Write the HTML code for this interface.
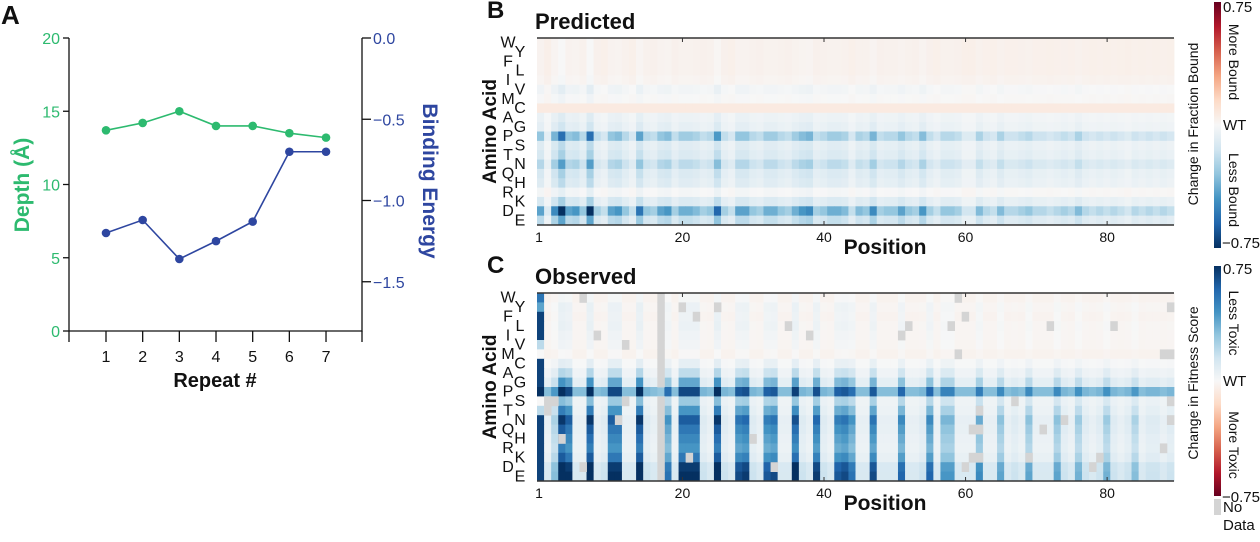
<!DOCTYPE html>
<html><head><meta charset="utf-8">
<style>
html,body{margin:0;padding:0;background:#fff;}
svg{display:block;font-family:"Liberation Sans",Arial,sans-serif;}
</style></head>
<body>
<svg id="fig" width="1260" height="542" viewBox="0 0 1260 542">
<defs>
<linearGradient id="gradB" x1="0" y1="0" x2="0" y2="1">
<stop offset="0" stop-color="#67001f"/><stop offset="0.1" stop-color="#b2182b"/><stop offset="0.2" stop-color="#d6604d"/><stop offset="0.3" stop-color="#f4a582"/><stop offset="0.4" stop-color="#fddbc7"/><stop offset="0.5" stop-color="#f7f7f7"/><stop offset="0.6" stop-color="#d1e5f0"/><stop offset="0.7" stop-color="#92c5de"/><stop offset="0.8" stop-color="#4393c3"/><stop offset="0.9" stop-color="#2166ac"/><stop offset="1" stop-color="#053061"/>
</linearGradient>
<linearGradient id="gradC" x1="0" y1="1" x2="0" y2="0">
<stop offset="0" stop-color="#67001f"/><stop offset="0.1" stop-color="#b2182b"/><stop offset="0.2" stop-color="#d6604d"/><stop offset="0.3" stop-color="#f4a582"/><stop offset="0.4" stop-color="#fddbc7"/><stop offset="0.5" stop-color="#f7f7f7"/><stop offset="0.6" stop-color="#d1e5f0"/><stop offset="0.7" stop-color="#92c5de"/><stop offset="0.8" stop-color="#4393c3"/><stop offset="0.9" stop-color="#2166ac"/><stop offset="1" stop-color="#053061"/>
</linearGradient>
</defs>
<g id="panelA"></g>
<g id="panelB"></g>
<g id="panelC"></g>
<g id="cbars"></g>
</svg>
<script>
// ---- Panel A data ----
const repeats = [1,2,3,4,5,6,7];
const depthValues = [13.7,14.2,15.0,14.0,14.0,13.5,13.2];
const energyValues = [-1.2,-1.12,-1.36,-1.25,-1.13,-0.7,-0.7];
const depthTicks = [0,5,10,15,20];
const energyTicks = [0.0,-0.5,-1.0,-1.5];
const energyTickLabels = ["0.0","\u22120.5","\u22121.0","\u22121.5"];

// ---- Heatmap data ----
const aminoAcids = ["W","Y","F","L","I","V","M","C","A","G","P","S","T","N","Q","H","R","K","D","E"];
const positionTicks = [1,20,40,60,80];
const predColStrength = [0.5,0.1,0.6,1.0,0.5,0.55,0.35,1.0,0.3,0.2,
0.5,0.55,0.35,0.2,0.7,0.35,0.3,0.5,0.55,0.3,
0.45,0.45,0.4,0.3,0.35,0.75,0.3,0.2,0.5,0.5,
0.35,0.3,0.45,0.45,0.35,0.3,0.45,0.55,0.6,0.3,
0.35,0.45,0.45,0.4,0.2,0.4,0.35,0.6,0.3,0.35,
0.35,0.5,0.35,0.3,0.55,0.3,0.2,0.35,0.35,0.3,
0.15,0.15,0.4,0.25,0.2,0.4,0.25,0.25,0.3,0.35,
0.25,0.25,0.2,0.25,0.3,0.25,0.4,0.25,0.2,0.25,
0.2,0.25,0.2,0.15,0.25,0.2,0.25,0.2,0.25,0.2];
const predRowBase = [0.05,0.05,0.05,0.05,0.04,0.02,0.02,0.07,0,0,-0.02,0,0,-0.02,0,0,0.03,0,-0.03,0];
const predRowScale = [-0.05,-0.05,-0.05,-0.05,-0.05,-0.1,-0.05,0,-0.1,-0.15,-0.55,-0.2,-0.25,-0.4,-0.25,-0.2,-0.1,-0.25,-0.75,-0.4];
const obsColStrength = [1,0.05,0.3,1,0.85,0.05,0.05,1,0.05,0.1,
0.85,0.85,0.05,0.05,1,0.1,0.05,0.0,0.6,0.05,
0.85,0.85,0.85,0.1,0.05,1,0.1,0.05,0.75,0.8,
0.1,0.05,0.7,0.75,0.05,0.05,0.9,0.1,0.05,0.8,
0.1,0.05,0.7,0.75,0.6,0.05,0.05,0.75,0.05,0.05,
0.05,0.65,0.05,0.05,0.1,0.65,0.05,0.45,0.45,0.05,
0.05,0.05,0.5,0.05,0.05,0.4,0.05,0.1,0.05,0.4,
0.05,0.05,0.05,0.4,0.1,0.05,0.35,0.1,0.05,0.1,
0.35,0.1,0.05,0.1,0.3,0.05,0.1,0.1,0.05,0.1];
const obsRowBase = [-0.03,-0.02,-0.03,-0.02,-0.02,-0.02,-0.03,0.0,0.02,0.05,0.3,0.02,0.02,0.03,0.03,0.02,0.02,0.03,0.08,0.08];
const obsRowScale = [0.05,0.08,0.08,0.08,0.06,0.05,0.03,0.08,0.2,0.4,0.45,0.3,0.5,0.7,0.6,0.55,0.5,0.6,0.75,0.8];
const obsFirstCol = [0.55,0.4,0.7,0.7,0.7,0.2,0.0,0.7,0.7,0.7,0.75,0.0,0.2,0.7,0.7,0.7,0.7,0.7,0.7,0.7];
const noDataCells = [[17,0],[17,1],[17,2],[17,3],[17,4],[17,5],[17,6],[17,7],[17,8],[17,9],[17,11],[17,12],[17,13],[17,14],[17,15],[17,16],[17,17],[17,18],[17,19],
[6,0],[20,1],[25,1],[22,2],[35,3],[8,4],[12,5],[1,11],[2,11],[1,12],[12,11],[11,13],[3,15],[6,18],[21,17],[33,18],[30,15],[38,4],
[59,0],[60,2],[58,3],[52,3],[51,4],[72,3],[81,3],[89,1],[89,6],[59,6],[88,6],[67,11],[89,11],[62,12],[74,13],[89,13],[71,14],[61,14],[62,14],[88,16],[79,17],[69,17],[61,17],[62,17],[60,18],[78,18]];

const NS="http://www.w3.org/2000/svg";
function mk(tag,attrs,parent){const e=document.createElementNS(NS,tag);for(const k in attrs)e.setAttribute(k,attrs[k]);parent.appendChild(e);return e;}
function txt(s,attrs,parent){const e=mk('text',attrs,parent);e.textContent=s;return e;}

// ---- Panel A ----
const A=document.getElementById('panelA');
const green="#2dba6f", blue="#2e46a0";
const axL=69, axR=362, axT=38, axB=331;
const xA=r=>106+(r-1)*36.67;
const yD=d=>axB-(d/20)*(axB-axT);
const yE=e=>axT-e*162.5;
let t=txt('A',{x:1,y:24,'font-size':26,'font-weight':'bold',fill:'#111'},A);

let ax=mk('path',{d:`M${axL},${axT}V${axB}H${axR}V${axT}`,fill:'none',stroke:'#111','stroke-width':1.3},A);

depthTicks.forEach(d=>{const y=yD(d);mk('line',{x1:axL-6,x2:axL,y1:y,y2:y,stroke:'#111','stroke-width':1.3},A);
 const l=txt(String(d),{x:axL-9,y:y+6,'font-size':16,fill:green,'text-anchor':'end'},A);
 });
energyTicks.forEach((e,i)=>{const y=yE(e);mk('line',{x1:axR,x2:axR+9,y1:y,y2:y,stroke:'#111','stroke-width':1.3},A);
 const l=txt(energyTickLabels[i],{x:axR+11,y:y+6,'font-size':16,fill:blue},A);
 });
[axL,...repeats.map(xA),axR].forEach(x=>mk('line',{x1:x,x2:x,y1:axB,y2:axB+11,stroke:'#111','stroke-width':1.3},A));
repeats.forEach(r=>{const l=txt(String(r),{x:xA(r),y:362,'font-size':16,fill:'#111','text-anchor':'middle'},A);
 });
t=txt('Repeat #',{x:215,y:387,'font-size':20,'font-weight':'bold',fill:'#111','text-anchor':'middle'},A);

t=txt('Depth (Å)',{x:0,y:0,'font-size':21,'font-weight':'bold',fill:green,'text-anchor':'middle',transform:'translate(29,185) rotate(-90)'},A);

t=txt('Binding Energy',{x:0,y:0,'font-size':21,'font-weight':'bold',fill:blue,'text-anchor':'middle',transform:'translate(423,181) rotate(90)'},A);

let ln=mk('polyline',{points:repeats.map((r,i)=>xA(r)+','+yD(depthValues[i])).join(' '),fill:'none',stroke:green,'stroke-width':1.6},A);

repeats.forEach((r,i)=>{const c=mk('circle',{cx:xA(r),cy:yD(depthValues[i]),r:4.3,fill:green},A);
 });
ln=mk('polyline',{points:repeats.map((r,i)=>xA(r)+','+yE(energyValues[i])).join(' '),fill:'none',stroke:blue,'stroke-width':1.6},A);

repeats.forEach((r,i)=>{const c=mk('circle',{cx:xA(r),cy:yE(energyValues[i]),r:4.3,fill:blue},A);
 });

// ---- color map ----
const stops=[[103,0,31],[178,24,43],[214,96,77],[244,165,130],[253,219,199],[247,247,247],[209,229,240],[146,197,222],[67,147,195],[33,102,172],[5,48,97]];
function rdbu(u){
 u=Math.max(-1,Math.min(1,u));const p=(u+1)/2*10;const i=Math.min(9,Math.floor(p));const f=p-i;
 const a=stops[i],b=stops[i+1];return `rgb(${a.map((v,k)=>Math.round(v+(b[k]-v)*f)).join(',')})`;}

const hmL=537, hmR=1174, nCols=90, cw=(hmR-hmL)/nCols;
const xPos=p=>hmL+(p+0.55)*cw;
function heatmap(G,top,bot,title,letter,valueFn,gray){
 const rh=(bot-top)/20;
 let l=txt(letter,{x:487,y:top-20,'font-size':24,'font-weight':'bold',fill:'#111'},G);
 
 l=txt(title,{x:535,y:top-9,'font-size':22,'font-weight':'bold',fill:'#111'},G);
 
 for(let r=0;r<20;r++)for(let c=0;c<nCols;c++){
  const rc=mk('rect',{x:(hmL+c*cw).toFixed(2),y:(top+r*rh).toFixed(2),width:(cw+0.4).toFixed(2),height:(rh+0.4).toFixed(2),fill:valueFn(r,c)},G);
  
  
 }
 if(gray)gray.forEach(([c,r])=>{const g=mk('rect',{x:hmL+c*cw,y:top+r*rh,width:cw+0.4,height:rh+0.4,fill:'#d4d4d4'},G);
  });
 mk('line',{x1:hmL,x2:hmR,y1:top,y2:top,stroke:'#333','stroke-width':1.5},G);
 mk('line',{x1:hmL,x2:hmR,y1:bot,y2:bot,stroke:'#333','stroke-width':1.5},G);
 positionTicks.forEach(p=>{const x=p===1?hmL+2:xPos(p);
  if(p!==1){mk('line',{x1:x,x2:x,y1:top,y2:top+4,stroke:'#333'},G);mk('line',{x1:x,x2:x,y1:bot-4,y2:bot,stroke:'#333'},G);}
  const tl=txt(String(p),{x:x,y:bot+17,'font-size':14,fill:'#111','text-anchor':'middle'},G);
  });
 aminoAcids.forEach((a,r)=>{const tl=txt(a,{x:r%2===0?508:520,y:top+r*rh+rh/2+5,'font-size':16,fill:'#111','text-anchor':'middle'},G);
  });
 l=txt('Amino Acid',{x:0,y:0,'font-size':19,'font-weight':'bold',fill:'#111','text-anchor':'middle',transform:`translate(496,${(top+bot)/2}) rotate(-90)`},G);
 
 l=txt('Position',{x:885,y:bot+29,'font-size':21,'font-weight':'bold',fill:'#111','text-anchor':'middle'},G);
 
}
heatmap(document.getElementById('panelB'),38,225,'Predicted','B',
 (r,c)=>rdbu(-(predRowBase[r]+predRowScale[r]*predColStrength[c])/0.75),null);
heatmap(document.getElementById('panelC'),293,481,'Observed','C',
 (r,c)=>{const v=c===0?obsFirstCol[r]:obsRowBase[r]+obsRowScale[r]*obsColStrength[c];return rdbu(v/0.75);},noDataCells);

// ---- colorbars ----
const CB=document.getElementById('cbars');
let cb=mk('rect',{x:1214,y:2,width:7,height:246,fill:'url(#gradB)'},CB);

cb=mk('rect',{x:1214,y:266,width:7,height:230,fill:'url(#gradC)'},CB);

cb=mk('rect',{x:1214,y:499,width:7,height:16,fill:'#d4d4d4'},CB);

const cbl=[['0.75',1223,12],['WT',1223,130],['\u22120.75',1222,248],['0.75',1223,274],['WT',1223,386],['\u22120.75',1222,502],['No',1223,512],['Data',1223,530]];
cbl.forEach(([s,x,y])=>{const l=txt(s,{x:x,y:y,'font-size':15,fill:'#111'},CB);});
const cbr=[['More Bound',1229,62],['Less Bound',1229,190],['Less Toxic',1229,323],['More Toxic',1229,445]];
cbr.forEach(([s,x,y])=>{const l=txt(s,{x:0,y:0,'font-size':14,fill:'#111','text-anchor':'middle',transform:`translate(${x},${y}) rotate(90)`},CB);});
let lt=txt('Change in Fraction Bound',{x:0,y:0,'font-size':14,fill:'#111','text-anchor':'middle',transform:'translate(1198,124) rotate(-90)'},CB);

lt=txt('Change in Fitness Score',{x:0,y:0,'font-size':14,fill:'#111','text-anchor':'middle',transform:'translate(1198,383) rotate(-90)'},CB);

</script>
</body></html>
